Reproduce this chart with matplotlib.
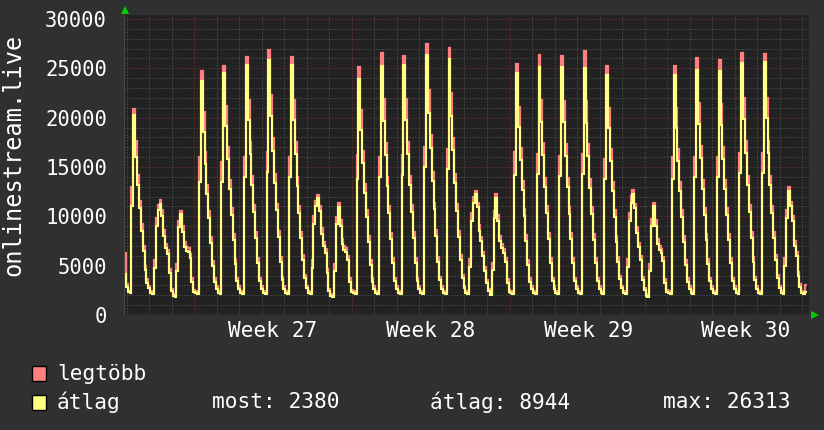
import numpy as np
import matplotlib
matplotlib.use("Agg")
import matplotlib.pyplot as plt
from matplotlib.patches import Polygon, Rectangle

plt.rcParams["lines.scale_dashes"] = False

# ---- data: 2-hour bins, starting Thursday 21:00 before week 27 (days relative to Monday of week 27)
thu_tail_avg = [4200]
thu_tail_max = [6300]

avg_w26 = [  # Fri, Sat, Sun
    2800, 2300, 2250, 11000, 20300, 16000, 13200, 10800, 8500, 6500, 4600, 3200,
    2700, 2200, 2150, 4800, 9000, 10600, 11300, 10000, 8000, 6800, 6200, 4300,
    2400, 1900, 1800, 4500, 8900, 10240, 8400, 6900, 6500, 6400, 5800, 3300,
]
max_w26 = [
    3100, 2500, 2400, 13000, 20900, 17600, 14200, 11600, 9200, 7000, 5000, 3600,
    2900, 2400, 2300, 5600, 9800, 11100, 11700, 10600, 8600, 7200, 6600, 4700,
    2600, 2100, 2000, 5200, 9500, 10500, 9000, 7400, 6900, 6800, 6200, 3700,
]
avg_w27 = [
    2300, 2200, 2100, 13500, 23730, 18500, 15300, 12300, 9800, 7300, 5000, 3300,
    2600, 2200, 2150, 13500, 24500, 19200, 15800, 12800, 10100, 7600, 5200, 3400,
    2600, 2200, 2150, 14000, 25340, 19800, 16300, 13200, 10400, 7800, 5300, 3400,
    2600, 2250, 2150, 14500, 25840, 20200, 16600, 13400, 10600, 7900, 5400, 3500,
    2600, 2250, 2150, 14000, 25340, 19800, 16300, 13100, 10300, 7800, 5600, 3700,
    2700, 2200, 2150, 4800, 9200, 11000, 11900, 10500, 8200, 7000, 6300, 4300,
    2400, 1900, 1850, 4500, 9200, 10900, 9000, 7200, 6600, 6400, 5600, 3300,
]
max_w27 = [
    2500, 2400, 2300, 16000, 24750, 20600, 16500, 13200, 10500, 7900, 5500, 3700,
    2900, 2400, 2300, 15500, 25270, 21200, 17000, 13700, 10800, 8200, 5700, 3800,
    2900, 2400, 2300, 16000, 26170, 21800, 17500, 14100, 11100, 8400, 5800, 3800,
    2900, 2450, 2300, 16500, 26850, 22300, 17900, 14300, 11300, 8500, 5900, 3900,
    2900, 2450, 2300, 16000, 26170, 21800, 17500, 14000, 11000, 8400, 6100, 4100,
    2900, 2400, 2300, 5600, 10000, 11600, 12180, 11000, 8800, 7400, 6700, 4700,
    2600, 2100, 2000, 5200, 9900, 11400, 9600, 7700, 7000, 6800, 6000, 3700,
]
avg_w28 = [
    2300, 2200, 2100, 13800, 23930, 18700, 15400, 12400, 9900, 7400, 5100, 3300,
    2600, 2200, 2150, 14000, 25240, 19700, 16200, 13100, 10300, 7700, 5300, 3400,
    2600, 2200, 2150, 14200, 25340, 19800, 16300, 13200, 10400, 7800, 5300, 3400,
    2600, 2250, 2150, 15000, 26313, 20500, 16900, 13600, 10700, 8000, 5400, 3500,
    2600, 2250, 2150, 14800, 25940, 20200, 16700, 13400, 10500, 7900, 5600, 3700,
    2700, 2200, 2150, 4900, 9500, 11400, 12250, 10900, 8500, 7500, 6000, 4500,
    3200, 2400, 2000, 4600, 9800, 11900, 9500, 7500, 6800, 6300, 5400, 3200,
]
max_w28 = [
    2500, 2400, 2300, 16200, 25170, 20800, 16600, 13300, 10600, 8000, 5600, 3700,
    2900, 2400, 2300, 16000, 26580, 21900, 17400, 14000, 11000, 8300, 5800, 3800,
    2900, 2400, 2300, 16200, 26270, 21900, 17500, 14100, 11100, 8400, 5800, 3800,
    2900, 2450, 2300, 17000, 27450, 22800, 18200, 14500, 11400, 8600, 5900, 3900,
    2900, 2450, 2300, 16800, 27080, 22500, 17900, 14300, 11200, 8500, 6100, 4100,
    2900, 2400, 2300, 5700, 10300, 12000, 12550, 11400, 9100, 7900, 6400, 4900,
    3500, 2600, 2150, 5300, 10500, 12300, 10100, 8000, 7200, 6700, 5800, 3600,
]
avg_w29 = [
    2300, 2200, 2100, 14200, 24500, 19100, 15700, 12700, 10000, 7500, 5100, 3300,
    2600, 2200, 2150, 14300, 25170, 19600, 16200, 13000, 10300, 7700, 5300, 3400,
    2600, 2200, 2150, 14100, 25170, 19600, 16100, 13000, 10200, 7700, 5300, 3400,
    2600, 2250, 2150, 14300, 25070, 19500, 16100, 12900, 10200, 7600, 5300, 3400,
    2600, 2250, 2150, 13800, 24330, 19000, 15600, 12600, 9900, 7400, 5400, 3600,
    2700, 2200, 2150, 4900, 9500, 11400, 12250, 10800, 8300, 6900, 5600, 3500,
    2500, 1950, 1800, 4500, 9000, 11070, 9000, 7200, 6600, 6300, 5500, 3200,
]
max_w29 = [
    2500, 2400, 2300, 16500, 25440, 21100, 16900, 13600, 10700, 8100, 5600, 3700,
    2900, 2400, 2300, 16300, 26340, 21800, 17400, 13900, 11000, 8300, 5800, 3800,
    2900, 2400, 2300, 16100, 26270, 21700, 17300, 13900, 10900, 8300, 5800, 3800,
    2900, 2450, 2300, 16300, 26750, 21700, 17300, 13800, 10900, 8200, 5800, 3800,
    2900, 2450, 2300, 15800, 25270, 21000, 16800, 13500, 10600, 8000, 5900, 4000,
    2900, 2400, 2300, 5700, 10300, 12100, 12650, 11300, 8900, 7300, 6000, 3900,
    2700, 2150, 1950, 5200, 9700, 11400, 9600, 7700, 7000, 6700, 5900, 3600,
]
avg_w30 = [  # Mon..Sat, then Sunday until 05:00
    2300, 2200, 2100, 13800, 24330, 19000, 15600, 12600, 9900, 7400, 5100, 3300,
    2600, 2200, 2150, 14000, 24830, 19400, 15900, 12800, 10100, 7600, 5200, 3400,
    2600, 2200, 2150, 14000, 24730, 19300, 15800, 12800, 10100, 7600, 5300, 3400,
    2600, 2250, 2150, 14400, 25500, 19900, 16400, 13200, 10400, 7800, 5400, 3500,
    2600, 2250, 2150, 14400, 25600, 20000, 16400, 13200, 10300, 7800, 5600, 3700,
    2700, 2200, 2150, 5000, 9800, 12580, 11000, 9500, 7000, 6000, 4000, 2800,
    2200, 2150, 2380,
]
max_w30 = [
    2500, 2400, 2300, 16000, 25270, 21000, 16800, 13500, 10600, 8000, 5600, 3700,
    2900, 2400, 2300, 16000, 26070, 21500, 17100, 13700, 10800, 8200, 5700, 3800,
    2900, 2400, 2300, 16000, 25840, 21400, 17000, 13700, 10800, 8200, 5800, 3800,
    2900, 2450, 2300, 16400, 26580, 22000, 17600, 14100, 11100, 8400, 5900, 3900,
    2900, 2450, 2300, 16400, 26440, 22000, 17600, 14100, 11000, 8400, 6100, 4100,
    2900, 2400, 2300, 5800, 10600, 12990, 11500, 10000, 7500, 6400, 4400, 3100,
    2400, 2300, 3000,
]

week_labels = ["Week 27", "Week 28", "Week 29", "Week 30"]
week_starts = [0, 7, 14, 21]
legend_labels = ["legtöbb", "átlag"]
stats = ["most: 2380", "átlag: 8944", "max: 26313"]
y_label = "onlinestream.live"

avg = np.array(thu_tail_avg + avg_w26 + avg_w27 + avg_w28 + avg_w29 + avg_w30, float)
mx = np.array(thu_tail_max + max_w26 + max_w27 + max_w28 + max_w29 + max_w30, float)
t0 = -3 - 3 / 24.0
edges = t0 + np.arange(len(avg) + 1) / 12.0

# ---- styling
W, H = 824, 430
CANVAS = "#303030"
PLOTBG = "#222222"
RED = "#ff7f7f"
YEL = "#ffff80"
MINOR = "#5a5a5a"
MAJOR = "#783434"
FONT = "DejaVu Sans Mono"

fig = plt.figure(figsize=(W / 100, H / 100), dpi=100, facecolor=CANVAS)

def fx(px):
    return px / W

def fy(py):
    return 1 - py / H

L, R, T, B = 124, 809, 15, 315
ax = fig.add_axes([fx(L), fy(B), (R - L) / W, (B - T) / H])
ax.set_facecolor(PLOTBG)
xmin, xmax = -3.12, 27.30
ymax = 30000 + 4 / 296 * 30000
ax.set_xlim(xmin, xmax)
ax.set_ylim(0, ymax)

dot = (0, (0.72, 1.44))
for v in range(1000, 31000, 1000):
    if v > ymax:
        break
    c = MAJOR if v % 5000 == 0 else MINOR
    ax.axhline(v, color=c, lw=0.72, ls=dot, zorder=1)
for d in range(-3, 28):
    c = MAJOR if d in week_starts else MINOR
    ax.axvline(d, color=c, lw=0.72, ls=dot, zorder=1)

ax.stairs(mx, edges, baseline=None, color=RED, lw=1.6, zorder=3)
ax.stairs(avg, edges, baseline=None, color=YEL, lw=1.5, zorder=4)

for s in ax.spines.values():
    s.set_visible(False)
ax.axhline(0, color="#707070", lw=0.9, zorder=5)
ax.axvline(xmin, color="#4a4a4a", lw=1.5, zorder=5)

ax.set_yticks(range(0, 30001, 5000))
ax.set_yticklabels([str(v) for v in range(0, 30001, 5000)])
ax.tick_params(axis="y", length=0, pad=12.2, labelsize=14.8, labelcolor="white")
for lab in ax.get_yticklabels():
    lab.set_fontfamily(FONT)
ax.set_xticks([])

for lab, ws in zip(week_labels, week_starts):
    ax.text(ws + 3.5, -16 / 300, lab, transform=ax.get_xaxis_transform(),
            ha="center", va="center", color="white", fontsize=15.2, family=FONT)

fig.text(fx(13), fy(155), y_label, rotation=90, ha="center", va="center",
         color="white", fontsize=17, family=FONT)

# arrows
ax_tri = [(fx(121), fy(14)), (fx(129), fy(14)), (fx(125), fy(6))]
fig.patches.append(Polygon(ax_tri, closed=True, transform=fig.transFigure,
                           facecolor="#00cc00", edgecolor="none"))
x_tri = [(fx(811), fy(311)), (fx(811), fy(319)), (fx(819), fy(315))]
fig.patches.append(Polygon(x_tri, closed=True, transform=fig.transFigure,
                           facecolor="#00cc00", edgecolor="none"))

# legend
for i, (lab, col) in enumerate(zip(legend_labels, [RED, YEL])):
    ytop = 366 + i * 29
    fig.patches.append(Rectangle((fx(32), fy(ytop + 15)), 14 / W, 15 / H,
                                 transform=fig.transFigure, facecolor=col,
                                 edgecolor="black", lw=1))
    fig.text(fx(57), fy(ytop + 7.5), lab, ha="left", va="center",
             color="white", fontsize=15.2, family=FONT)

for s, xp in zip(stats, [212, 430, 663]):
    fig.text(fx(xp), fy(402.5), s, ha="left", va="center", color="white",
             fontsize=15.2, family=FONT)

fig.savefig("out.png", dpi=100, facecolor=CANVAS)
